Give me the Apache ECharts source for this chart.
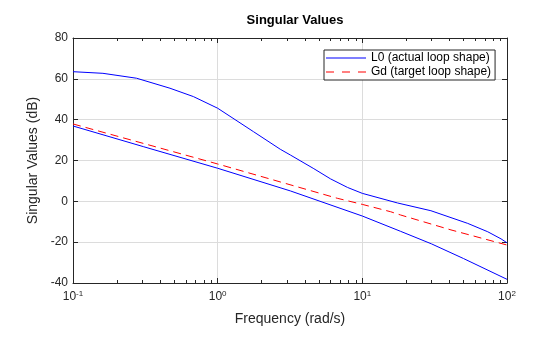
<!DOCTYPE html>
<html>
<head>
<meta charset="utf-8">
<script src="https://cdn.jsdelivr.net/npm/echarts@6/dist/echarts.min.js"></script>
<style>
  html, body { margin: 0; padding: 0; background: #fff; }
  #chart { width: 560px; height: 337px; }
</style>
</head>
<body>
<div id="chart"></div>
<script>
// Largest singular value of the actual loop shape L0 (dB)
var freqUpper = [0.1, 0.161, 0.275, 0.468, 0.68, 1, 1.77, 2.71, 3.18, 4.62, 6.03, 7.9, 10, 17.5, 29.8, 53.5, 73.6, 91, 100];
var upperDb   = [63.5, 62.7, 60.3, 55.4, 51.3, 45.6, 34.1, 25.5, 22.7, 16.0, 11.0, 6.8, 3.9, -0.8, -4.6, -10.8, -14.9, -18.4, -20.3];

// Smallest singular value of L0 (dB)
var freqLower = [0.1, 0.306, 1, 3.18, 10, 18.4, 30, 50, 100];
var lowerDb   = [36.9, 26.8, 16.2, 5.1, -7.2, -14.7, -20.8, -28.0, -38.2];

// Target loop shape Gd (dB)
var freqGd = [0.1, 1, 2.71, 6.71, 10, 15.7, 18.4, 41, 100];
var gdDb   = [37.9, 18.3, 9.5, 1.5, -1.5, -5.1, -6.7, -14.0, -21.4];

// Axis ticks
var yTicks = [-40, -20, 0, 20, 40, 60, 80];
var minorFreqs = [0.2, 0.3, 0.4, 0.5, 0.6, 0.7, 0.8, 0.9, 2, 3, 4, 5, 6, 7, 8, 9, 20, 30, 40, 50, 60, 70, 80, 90];

var seriesNames = ['L0 (actual loop shape)', 'Gd (target loop shape)'];

function pairs(xs, ys) {
  return xs.map(function (x, i) { return [x, ys[i]]; });
}

var FONT = '"Liberation Sans", Arial, Helvetica, sans-serif';
var INK = '#262626';
var yMin = yTicks[0], yMax = yTicks[yTicks.length - 1];

// legend keys: a thin solid stroke and a thin dashed stroke, 40 px wide
var SOLID_KEY = 'path://M0,0h40v1h-40z';
var DASH_KEY = 'path://M0,0h8v1h-8z M16,0h8v1h-8z M32,0h8v1h-8z';

var chart = echarts.init(document.getElementById('chart'), null, { renderer: 'canvas' });

var option = {
  backgroundColor: '#ffffff',
  animation: false,
  textStyle: { fontFamily: FONT },
  title: {
    text: 'Singular Values',
    left: 290,
    top: 9,
    textAlign: 'center',
    textStyle: { fontFamily: FONT, fontSize: 13, fontWeight: 'bold', color: '#000' }
  },
  legend: {
    data: [
      { name: seriesNames[0], icon: SOLID_KEY, itemStyle: { color: '#0000ff' } },
      { name: seriesNames[1], icon: DASH_KEY, itemStyle: { color: '#ff0000' } }
    ],
    orient: 'vertical',
    left: 324,
    top: 50,
    padding: [2, 4, 2, 2],
    itemGap: 2,
    itemWidth: 40,
    itemHeight: 13,
    symbolKeepAspect: true,
    backgroundColor: '#fff',
    borderColor: INK,
    borderWidth: 1,
    borderRadius: 0,
    textStyle: { fontFamily: FONT, fontSize: 12, color: '#000' }
  },
  grid: { left: 73, right: 53, top: 38, bottom: 54, containLabel: false },
  xAxis: [{
    type: 'log',
    logBase: 10,
    min: 0.1,
    max: 100,
    name: 'Frequency (rad/s)',
    nameLocation: 'middle',
    nameGap: 29,
    nameTextStyle: { fontFamily: FONT, fontSize: 14, color: INK },
    axisLine: { show: true, onZero: false, lineStyle: { color: INK, width: 1 } },
    axisTick: { show: true, inside: true, length: 5, lineStyle: { color: INK } },
    splitLine: { show: true, lineStyle: { color: '#dcdcdc', width: 1 } },
    minorTick: { show: false },
    axisLabel: {
      margin: 7,
      color: INK,
      formatter: function (v) {
        var e = Math.round(Math.log10(v));
        return '{b|10}{s|' + e + '}';
      },
      rich: {
        b: { fontFamily: FONT, fontSize: 12, color: INK },
        s: { fontFamily: FONT, fontSize: 8, color: INK, padding: [0, 0, 6, 0] }
      }
    }
  }, {
    type: 'log',
    logBase: 10,
    min: 0.1,
    max: 100,
    position: 'top',
    axisLine: { show: true, onZero: false, lineStyle: { color: INK, width: 1 } },
    axisTick: { show: true, inside: true, length: 5, lineStyle: { color: INK } },
    axisLabel: { show: false },
    splitLine: { show: false }
  }],
  yAxis: [{
    type: 'value',
    min: yMin,
    max: yMax,
    interval: 20,
    name: 'Singular Values (dB)',
    nameLocation: 'middle',
    nameGap: 30,
    nameTextStyle: { fontFamily: FONT, fontSize: 14, color: INK },
    axisLine: { show: true, onZero: false, lineStyle: { color: INK, width: 1 } },
    axisTick: { show: true, inside: true, length: 5, lineStyle: { color: INK } },
    splitLine: { show: true, lineStyle: { color: '#dcdcdc', width: 1 } },
    axisLabel: { margin: 5, color: INK, fontFamily: FONT, fontSize: 12 }
  }, {
    type: 'value',
    min: yMin,
    max: yMax,
    interval: 20,
    position: 'right',
    axisLine: { show: true, onZero: false, lineStyle: { color: INK, width: 1 } },
    axisTick: { show: true, inside: true, length: 5, lineStyle: { color: INK } },
    axisLabel: { show: false },
    splitLine: { show: false }
  }],
  series: [
    {
      // minor ticks of the log axis, along bottom and top edges
      type: 'custom',
      silent: true,
      xAxisIndex: 0,
      yAxisIndex: 0,
      data: minorFreqs.map(function (f) { return [f, yMin]; }),
      renderItem: function (params, api) {
        var bottom = api.coord([api.value(0), yMin]);
        var top = api.coord([api.value(0), yMax]);
        var x = Math.round(bottom[0]) + 0.5;
        return {
          type: 'group',
          children: [
            { type: 'line', shape: { x1: x, y1: bottom[1], x2: x, y2: bottom[1] - 3 }, style: { stroke: INK, lineWidth: 1 } },
            { type: 'line', shape: { x1: x, y1: top[1], x2: x, y2: top[1] + 3 }, style: { stroke: INK, lineWidth: 1 } }
          ]
        };
      },
      z: 1
    },
    {
      name: seriesNames[0],
      type: 'line',
      data: pairs(freqUpper, upperDb),
      showSymbol: false,
      symbol: 'none',
      lineStyle: { color: '#0000ff', width: 1 },
      itemStyle: { color: '#0000ff' },
      z: 3
    },
    {
      name: seriesNames[0],
      type: 'line',
      data: pairs(freqLower, lowerDb),
      showSymbol: false,
      symbol: 'none',
      lineStyle: { color: '#0000ff', width: 1 },
      itemStyle: { color: '#0000ff' },
      z: 3
    },
    {
      name: seriesNames[1],
      type: 'line',
      data: pairs(freqGd, gdDb),
      showSymbol: false,
      symbol: 'none',
      lineStyle: { color: '#ff0000', width: 1, type: [8, 5] },
      itemStyle: { color: '#ff0000' },
      z: 4
    }
  ]
};

chart.setOption(option);
</script>
</body>
</html>
